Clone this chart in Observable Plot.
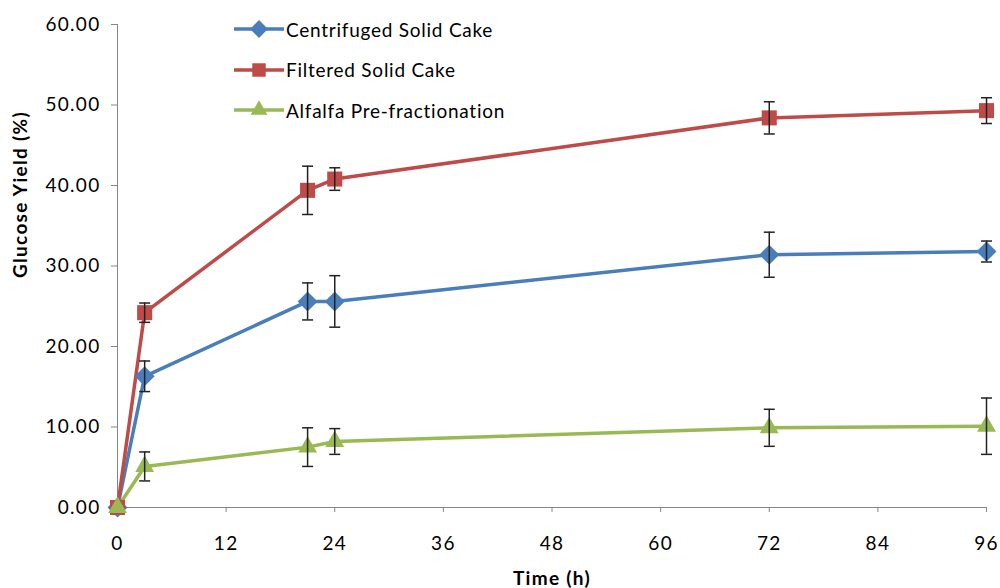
<!DOCTYPE html>
<html><head><meta charset="utf-8">
<script src="https://cdn.jsdelivr.net/npm/d3@7"></script>
<script src="https://cdn.jsdelivr.net/npm/@observablehq/plot@0.6"></script>
<style>
body{margin:0;background:#fff;}
#wrap{position:relative;width:1000px;height:588px;font-family:Lato,"Open Sans",sans-serif;}
#legend{position:absolute;left:233px;top:9px;font-size:19px;letter-spacing:0.75px;color:#000;}
#legend .row{display:flex;align-items:center;height:40.5px;}
#legend svg{margin-right:1px;}
#chart svg{overflow:visible;}
#chart svg text{letter-spacing:1.3px;}
</style></head><body>
<div id="wrap"><div id="chart"></div><div id="legend"></div></div>
<script>
const times = [0, 3, 21, 24, 72, 96];
const seriesNames = ["Centrifuged Solid Cake", "Filtered Solid Cake", "Alfalfa Pre-fractionation"];
const centrifuged = [0, 16.3, 25.6, 25.6, 31.4, 31.8];
const centrifugedErr = [null, 1.9, 2.3, 3.2, 2.8, 1.3];
const filtered = [0, 24.2, 39.4, 40.8, 48.4, 49.3];
const filteredErr = [null, 1.2, 3.0, 1.4, 2.0, 1.6];
const alfalfa = [0, 5.1, 7.5, 8.2, 9.9, 10.1];
const alfalfaErr = [null, 1.8, 2.4, 1.6, 2.3, 3.5];
const colors = ["#4A7EBB", "#BE4B48", "#98B954"];
const symbols = ["diamond2", "square", "triangle"];
const markerR = [9, 8.5, 7];
const yTicks = [0, 10, 20, 30, 40, 50, 60];
const xTicks = [0, 12, 24, 36, 48, 60, 72, 84, 96];
const xLabel = "Time (h)";
const yLabel = "Glucose Yield (%)";

const allVals = [centrifuged, filtered, alfalfa];
const allErrs = [centrifugedErr, filteredErr, alfalfaErr];
const rows = [];
seriesNames.forEach((s, i) => times.forEach((t, j) => rows.push({series: s, t, v: allVals[i][j], e: allErrs[i][j]})));
const errRows = rows.filter(d => d.e != null);

const cap = {draw(ctx) { ctx.moveTo(-5.5, 0); ctx.lineTo(5.5, 0); }};

const plot = Plot.plot({
  width: 1000, height: 588,
  marginLeft: 117, marginRight: 14, marginTop: 24, marginBottom: 81,
  style: {fontFamily: "Lato, 'Open Sans', sans-serif", fontSize: "19px", color: "#000", background: "#fff"},
  x: {domain: [0, 96]},
  y: {domain: [0, 60]},
  color: {domain: seriesNames, range: colors},
  symbol: {domain: seriesNames, range: symbols},
  marks: [
    Plot.axisY({ticks: yTicks, tickFormat: d => d.toFixed(2), tickSize: 6, tickPadding: 11, stroke: "#868686", label: null, fontSize: 19}),
    Plot.axisX({ticks: xTicks, tickSize: 5, tickPadding: 24, stroke: "#868686", label: null, fontSize: 19}),
    Plot.text([yLabel], {frameAnchor: "left", dx: -97, dy: 12, rotate: -90, fontWeight: "bold", fontSize: 19, lineAnchor: "middle"}),
    Plot.text([xLabel], {frameAnchor: "bottom", dy: 71, fontWeight: "bold", fontSize: 19, lineAnchor: "middle"}),
    Plot.ruleY([0], {stroke: "#868686"}),
    Plot.ruleX([0], {stroke: "#868686"}),
    Plot.line(rows, {x: "t", y: "v", z: "series", stroke: "series", strokeWidth: 3.5}),
    ...seriesNames.map((s, i) => Plot.dot(rows.filter(d => d.series === s), {x: "t", y: "v", fill: "series", symbol: "series", r: markerR[i], stroke: "none"})),
    Plot.ruleX(errRows, {x: "t", y1: d => d.v - d.e, y2: d => d.v + d.e, stroke: "#222", strokeWidth: 1.5}),
    Plot.dot(errRows, {x: "t", y: d => d.v - d.e, symbol: cap, stroke: "#222", strokeWidth: 1.5, r: 5}),
    Plot.dot(errRows, {x: "t", y: d => d.v + d.e, symbol: cap, stroke: "#222", strokeWidth: 1.5, r: 5})
  ]
});
document.getElementById("chart").append(plot);

const legend = document.getElementById("legend");
const d3sym = {diamond2: d3.symbolDiamond2, square: d3.symbolSquare, triangle: d3.symbolTriangle};
seriesNames.forEach((s, i) => {
  const row = document.createElement("div");
  row.className = "row";
  const sym = d3.symbol(d3sym[symbols[i]], markerR[i] * markerR[i] * Math.PI * 0.8)();
  row.innerHTML = `<svg width="52" height="20"><line x1="1" x2="51" y1="10" y2="10" stroke="${colors[i]}" stroke-width="3.5"/><path d="${sym}" transform="translate(26,10)" fill="${colors[i]}"/></svg><span>${s}</span>`;
  legend.append(row);
});
</script>
</body></html>
